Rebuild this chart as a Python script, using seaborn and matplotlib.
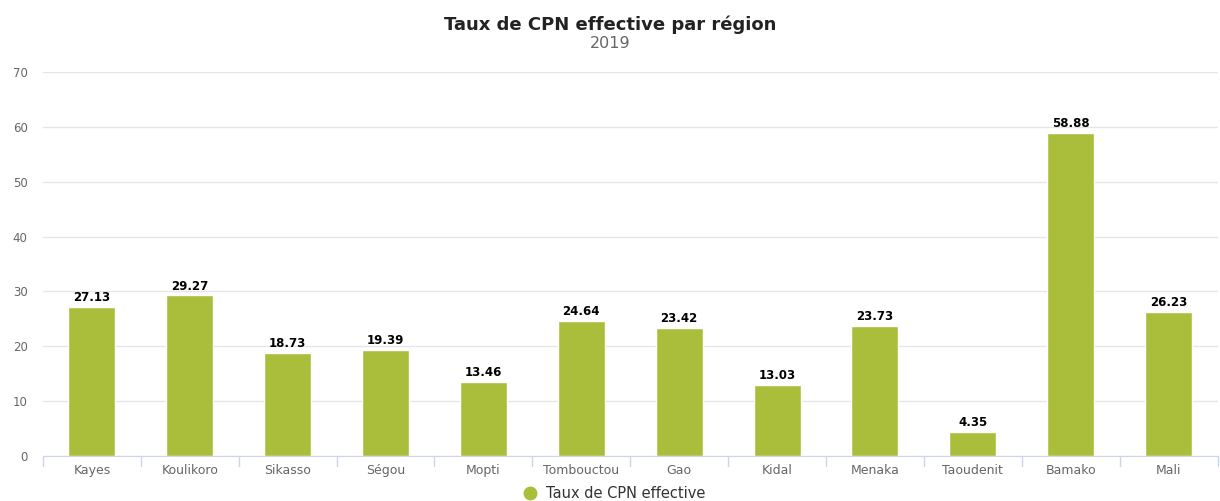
import matplotlib
matplotlib.use("Agg")
from matplotlib import pyplot as plt
from matplotlib.lines import Line2D
import pandas as pd
import seaborn as sns

regions = ['Kayes', 'Koulikoro', 'Sikasso', 'Ségou', 'Mopti', 'Tombouctou',
           'Gao', 'Kidal', 'Menaka', 'Taoudenit', 'Bamako', 'Mali']
taux = [27.13, 29.27, 18.73, 19.39, 13.46, 24.64, 23.42, 13.03, 23.73, 4.35, 58.88, 26.23]
yticks = [0, 10, 20, 30, 40, 50, 60, 70]

df = pd.DataFrame({'region': regions, 'taux': taux})

sns.set_style('white')
plt.rcParams['font.family'] = ['DejaVu Sans']

fig = plt.figure(figsize=(12.2, 5.01), dpi=100)
ax = fig.add_axes([0.0352, 0.0898, 0.9628, 0.7664])
green = '#abbe3b'
sns.barplot(data=df, x='region', y='taux', color=green, width=0.48, ax=ax,
            saturation=1, zorder=2)

for c in ax.containers:
    ax.bar_label(c, fmt='%.2f', padding=2, fontsize=8.5, fontweight='bold', color='#000000')

ax.set_ylim(0, 70)
ax.set_yticks(yticks)
ax.set_xlim(-0.5, len(regions) - 0.5)
ax.yaxis.grid(True, color='#e6e6e6', linewidth=1, zorder=0)
ax.set_axisbelow(True)
ax.set_xlabel('')
ax.set_ylabel('')
for s in ['top', 'right', 'left']:
    ax.spines[s].set_visible(False)
ax.spines['bottom'].set_color('#ccd6eb')
ax.tick_params(axis='y', length=0, labelsize=8.5, labelcolor='#666666', pad=11)
ax.tick_params(axis='x', length=0, labelsize=9, labelcolor='#666666', pad=6)
# category boundary ticks
for i in range(len(regions) + 1):
    ax.plot([i - 0.5, i - 0.5], [0, -0.025], transform=ax.get_xaxis_transform(),
            color='#ccd6eb', linewidth=1, clip_on=False)

fig.text(0.5, 0.951, 'Taux de CPN effective par région', ha='center', va='center',
         fontsize=13, fontweight='bold', color='#222222')
fig.text(0.5, 0.913, '2019', ha='center', va='center', fontsize=11.5, color='#666666')

handle = Line2D([], [], marker='o', linestyle='', markersize=9, color=green)
fig.legend([handle], ['Taux de CPN effective'], loc='center', bbox_to_anchor=(0.5, 0.014),
           frameon=False, fontsize=10.5, handletextpad=0.1, labelcolor='#333333')

fig.savefig('out.png', dpi=100)
